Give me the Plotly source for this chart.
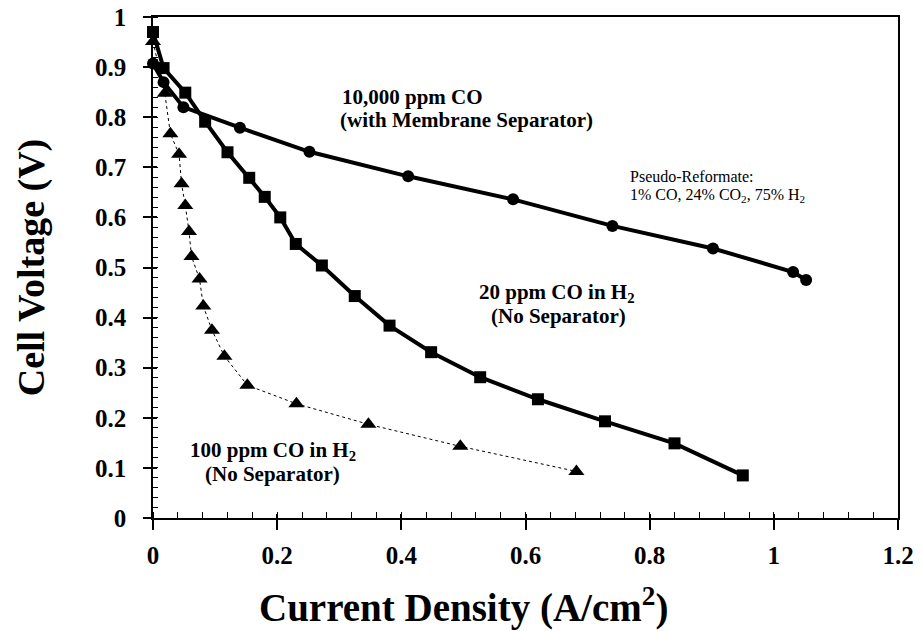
import plotly.graph_objects as go

# ---- data ----
membrane_x = [0.0, 0.017, 0.049, 0.14, 0.252, 0.411, 0.58, 0.74, 0.902, 1.031, 1.052]
membrane_y = [0.907, 0.870, 0.82, 0.779, 0.731, 0.682, 0.636, 0.583, 0.538, 0.491, 0.475]

ppm20_x = [0.0, 0.017, 0.052, 0.084, 0.12, 0.155, 0.18, 0.205, 0.23, 0.272, 0.325, 0.381,
           0.448, 0.527, 0.62, 0.728, 0.84, 0.95]
ppm20_y = [0.97, 0.898, 0.849, 0.791, 0.73, 0.679, 0.641, 0.6, 0.547, 0.504, 0.443, 0.384,
           0.331, 0.281, 0.237, 0.193, 0.149, 0.085]

ppm100_x = [0.0, 0.019, 0.028, 0.042, 0.046, 0.052, 0.058, 0.062, 0.075, 0.081, 0.095, 0.115,
            0.152, 0.231, 0.347, 0.495, 0.682]
ppm100_y = [0.951, 0.848, 0.767, 0.726, 0.667, 0.624, 0.572, 0.522, 0.477, 0.423, 0.375, 0.323,
            0.265, 0.228, 0.187, 0.143, 0.093]

x_tickvals = [0, 0.2, 0.4, 0.6, 0.8, 1.0, 1.2]
x_ticktext = ["0", "0.2", "0.4", "0.6", "0.8", "1", "1.2"]
y_tickvals = [0, 0.1, 0.2, 0.3, 0.4, 0.5, 0.6, 0.7, 0.8, 0.9, 1.0]
y_ticktext = ["0", "0.1", "0.2", "0.3", "0.4", "0.5", "0.6", "0.7", "0.8", "0.9", "1"]

x_title = "Current Density (A/cm<sup>2</sup>)"
y_title = "Cell Voltage (V)"

# text labels (one entry per printed line)
label_lines = [
    ("10,000 ppm CO", 0.301, 0.841, "left", "bold"),
    ("(with Membrane Separator)", 0.298, 0.795, "left", "bold"),
    ("20 ppm CO in H<sub>2</sub>", 0.651, 0.449, "center", "bold"),
    ("(No Separator)", 0.653, 0.403, "center", "bold"),
    ("100 ppm CO in H<sub>2</sub>", 0.193, 0.133, "center", "bold"),
    ("(No Separator)", 0.193, 0.087, "center", "bold"),
    ("Pseudo-Reformate:", 0.765, 0.682, "left", "normal"),
    ("1% CO, 24% CO<sub>2</sub>, 75% H<sub>2</sub>", 0.765, 0.644, "left", "normal"),
]

SERIF = "Liberation Serif, Times New Roman, serif"

fig = go.Figure()

fig.add_trace(go.Scatter(
    x=ppm100_x, y=ppm100_y, mode="lines+markers", name="100 ppm CO in H2",
    line=dict(color="black", width=1, dash="dot"),
    marker=dict(symbol="triangle-up", size=14, color="black"),
    cliponaxis=False))
fig.add_trace(go.Scatter(
    x=ppm20_x, y=ppm20_y, mode="lines+markers", name="20 ppm CO in H2",
    line=dict(color="black", width=4),
    marker=dict(symbol="square", size=12, color="black"),
    cliponaxis=False))
fig.add_trace(go.Scatter(
    x=membrane_x, y=membrane_y, mode="lines+markers", name="10,000 ppm CO",
    line=dict(color="black", width=4),
    marker=dict(symbol="circle", size=12, color="black"),
    cliponaxis=False))
# empty trace so the overlay axes (inside halves of the major ticks) are drawn
fig.add_trace(go.Scatter(x=[], y=[], xaxis="x2", yaxis="y2", showlegend=False))

fig.update_layout(
    width=922, height=631,
    margin=dict(l=153, r=24, t=17, b=113, autoexpand=False),
    paper_bgcolor="white", plot_bgcolor="white",
    showlegend=False,
    font=dict(family=SERIF, color="black"),
    xaxis=dict(
        range=[0, 1.2], tickvals=x_tickvals, ticktext=x_ticktext, automargin=False,
        ticks="outside", ticklen=10, tickwidth=1.5, tickcolor="black",
        ticklabelstandoff=4, ticklabeloverflow="allow",
        minor=dict(dtick=0.04, ticks="inside", ticklen=6, tickwidth=1, tickcolor="black", showgrid=False),
        showline=True, linecolor="black", linewidth=1.5, mirror=True,
        showgrid=False, zeroline=False,
        tickfont=dict(family=SERIF, size=25, weight="bold"),
    ),
    yaxis=dict(
        range=[0, 1.0], tickvals=y_tickvals, ticktext=y_ticktext, automargin=False,
        ticks="outside", ticklen=8, tickwidth=1.5, tickcolor="black",
        ticklabelstandoff=12, ticklabeloverflow="allow",
        minor=dict(dtick=0.02, ticks="inside", ticklen=5, tickwidth=1, tickcolor="black", showgrid=False),
        showline=True, linecolor="black", linewidth=1.5, mirror=True,
        showgrid=False, zeroline=False,
        tickfont=dict(family=SERIF, size=25, weight="bold"),
        title=dict(text=y_title,
                   font=dict(family=SERIF, size=38, weight="bold"), standoff=39),
    ),
    xaxis2=dict(
        range=[0, 1.2], overlaying="x", anchor="y", tickvals=x_tickvals, automargin=False,
        ticks="inside", ticklen=4, tickwidth=1.5, tickcolor="black",
        showticklabels=False, showline=False, showgrid=False, zeroline=False,
    ),
    yaxis2=dict(
        range=[0, 1.0], overlaying="y", anchor="x", tickvals=y_tickvals, automargin=False,
        ticks="inside", ticklen=4, tickwidth=1.5, tickcolor="black",
        showticklabels=False, showline=False, showgrid=False, zeroline=False,
    ),
)

# x-axis title: in the reference it sits under the 0-1 part of the axis
fig.add_annotation(x=0.5, y=-0.174, xref="x", yref="paper", xanchor="center", yanchor="middle",
                   showarrow=False, text=x_title,
                   font=dict(family=SERIF, size=39, weight="bold", color="black"))

for text, lx, ly, anchor, weight in label_lines:
    size = 21 if weight == "bold" else 16
    fig.add_annotation(x=lx, y=ly, xref="x", yref="y", xanchor=anchor, yanchor="middle",
                       showarrow=False, text=text,
                       font=dict(family=SERIF, size=size, weight=weight, color="black"))

# remove the default 8px page margin so the 922x631 figure fills the window exactly
fig.write_html("out.html",
               config={"displayModeBar": False},
               post_script="document.body.style.margin='0';document.body.style.overflow='hidden';")
